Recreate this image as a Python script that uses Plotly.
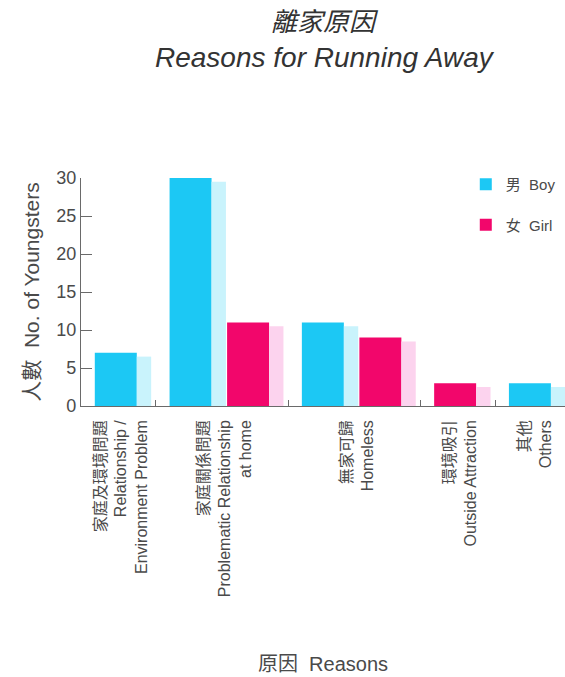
import plotly.graph_objects as go

# Reasons for running away, split by boys and girls
categories = [
    "家庭及環境問題<br>Relationship /<br>Environment Problem",
    "家庭關係問題<br>Problematic Relationship<br>at home",
    "無家可歸<br>Homeless",
    "環境吸引<br>Outside Attraction",
    "其他<br>Others",
]
boys = [7, 30, 11, 0, 3]
girls = [0, 11, 9, 3, 0]
y_ticks = [0, 5, 10, 15, 20, 25, 30]
title_lines = ["離家原因", "Reasons for Running Away"]

FONT = "Liberation Sans, Arial, Noto Sans CJK TC, sans-serif"
BOY, BOY_SHADE = "#1cc8f4", "#c9f3fc"
GIRL, GIRL_SHADE = "#f2066b", "#fcd3ee"
TEXT = "#4a4a4a"
AXIS = "#6a6a6a"

# Layout of the bar slots: only non-zero series take a slot in a category
BAR_W = 0.73      # main bar
SHADE_W = 0.25    # lighter "depth" strip to the right of each bar
SLOT = 1.0
PAD_L, PAD_R = 0.24, 0.06
SHADE_DROP = 0.5  # depth strip sits a little lower than the bar top

series = [("男  Boy", boys, BOY, BOY_SHADE), ("女  Girl", girls, GIRL, GIRL_SHADE)]
pos = {name: ([], []) for name, *_ in series}
boundaries, centers = [0.0], []
left = 0.0
for i in range(len(categories)):
    present = [s for s in series if s[1][i] > 0]
    width = PAD_L + len(present) * SLOT + PAD_R
    for j, (name, vals, _, _) in enumerate(present):
        slot_left = left + PAD_L + j * SLOT
        pos[name][0].append(slot_left + BAR_W / 2)
        pos[name][1].append(vals[i])
    centers.append(left + width / 2 + 0.05)
    left += width
    boundaries.append(left)

fig = go.Figure()
for name, vals, color, shade in series:
    xs, ys = pos[name]
    fig.add_trace(go.Bar(
        x=[x + BAR_W / 2 + SHADE_W / 2 for x in xs],
        y=[v - SHADE_DROP for v in ys],
        width=SHADE_W, marker=dict(color=shade, line=dict(width=0)),
        showlegend=False, hoverinfo="skip", xaxis="x2",
    ))
for name, vals, color, shade in series:
    xs, ys = pos[name]
    fig.add_trace(go.Bar(
        x=xs, y=ys, width=BAR_W, name=name, legendgroup=name,
        marker=dict(color=color, line=dict(width=0)),
    ))

# paper y coordinate of a pixel row (plot spans rows 178..406)
def py(row):
    return (406 - row) / 228

# the axis runs right to the page edge
x_end = left * 0.99
fig.update_layout(
    width=565, height=677,
    margin=dict(l=81, r=0, t=178, b=271),
    paper_bgcolor="white", plot_bgcolor="white",
    barmode="overlay",
    font=dict(family=FONT, color=TEXT),
    xaxis=dict(
        range=[0, x_end], showline=True, linecolor=AXIS, linewidth=1.3,
        ticks="inside", ticklen=6, tickcolor=AXIS, tickwidth=1.3,
        tickvals=boundaries[1:-1], showticklabels=False,
        showgrid=False, zeroline=False, fixedrange=True,
    ),
    xaxis2=dict(
        range=[0, x_end], overlaying="x", anchor="y", side="bottom",
        matches="x", showline=False, ticks="", showgrid=False, zeroline=False,
        tickvals=centers, ticktext=categories, tickangle=-90,
        tickfont=dict(size=16, color=TEXT, family=FONT),
        ticklabelstandoff=10,
    ),
    yaxis=dict(
        range=[0, 30], tickvals=y_ticks, showline=True, linecolor=AXIS,
        linewidth=1.3, ticks="inside", ticklen=11, tickcolor=AXIS,
        tickwidth=1.3, showgrid=False, zeroline=False,
        tickfont=dict(size=18, color=TEXT, family=FONT),
        title=dict(text="人數  No. of Youngsters",
                   font=dict(size=21, color=TEXT, family=FONT), standoff=10),
    ),
    legend=dict(
        x=0.795, xanchor="left", y=py(168), yanchor="top",
        font=dict(size=15, color=TEXT, family=FONT),
        bgcolor="rgba(0,0,0,0)", tracegroupgap=18, traceorder="grouped",
    ),
    annotations=[
        dict(text=f"<i>{title_lines[0]}</i>", x=(325 - 81) / 484, xref="paper",
             y=py(22), yref="paper", yanchor="middle", showarrow=False,
             font=dict(size=26, color="#333333", family=FONT)),
        dict(text=f"<i>{title_lines[1]}</i>", x=(325 - 81) / 484, xref="paper",
             y=py(57), yref="paper", yanchor="middle", showarrow=False,
             font=dict(size=28, color="#333333", family=FONT)),
        dict(text="原因  Reasons", x=0.5, xref="paper",
             y=py(664), yref="paper", yanchor="middle",
             showarrow=False, font=dict(size=20, color=TEXT, family=FONT)),
    ],
)

fig.write_html("out.html")
